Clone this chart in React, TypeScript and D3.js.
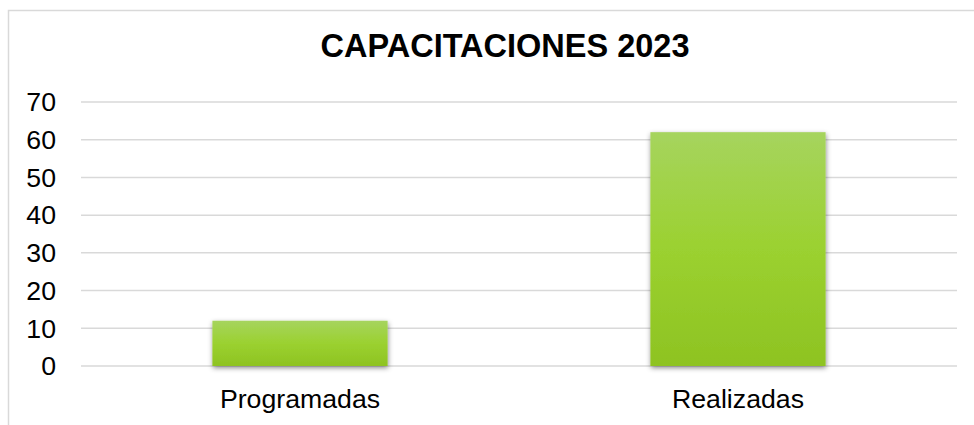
import { useEffect, useRef } from "react"
import * as d3 from "d3"

const categories = ["Programadas", "Realizadas"]
const values = [12, 62]
const yTicks = [0, 10, 20, 30, 40, 50, 60, 70]
const title = "CAPACITACIONES 2023"

const width = 974
const height = 425

export default function App() {
  const svgRef = useRef<SVGSVGElement>(null)

  useEffect(() => {
    if (!svgRef.current) return
    const root = d3.select(svgRef.current)
    root.selectAll("*").remove()

    const margin = { top: 102, right: 17, bottom: 59, left: 81 }
    const innerWidth = width - margin.left - margin.right
    const innerHeight = height - margin.top - margin.bottom

    const defs = root.append("defs")
    const grad = defs
      .append("linearGradient")
      .attr("id", "barGrad")
      .attr("x1", 0)
      .attr("y1", 0)
      .attr("x2", 0)
      .attr("y2", 1)
    grad.append("stop").attr("offset", "0%").attr("stop-color", "#a6d45e")
    grad.append("stop").attr("offset", "50%").attr("stop-color", "#9bd130")
    grad.append("stop").attr("offset", "100%").attr("stop-color", "#8ec322")

    const shadow = defs
      .append("filter")
      .attr("id", "barShadow")
      .attr("x", "-20%")
      .attr("y", "-20%")
      .attr("width", "140%")
      .attr("height", "150%")
    shadow
      .append("feDropShadow")
      .attr("dx", 0.5)
      .attr("dy", 2)
      .attr("stdDeviation", 2.5)
      .attr("flood-color", "#000")
      .attr("flood-opacity", 0.45)

    // Chart frame (only top and left edges are visible in the crop)
    root
      .append("path")
      .attr("d", `M8.5,${height + 5} V10.5 H${width + 5}`)
      .attr("fill", "none")
      .attr("stroke", "#d9d9d9")
      .attr("stroke-width", 1.5)

    root
      .append("text")
      .attr("x", 505)
      .attr("y", 57)
      .attr("text-anchor", "middle")
      .attr("font-family", "Arial, 'Liberation Sans', sans-serif")
      .attr("font-weight", "bold")
      .attr("font-size", 32.5)
      .attr("fill", "#000")
      .text(title)

    const svg = root.append("g").attr("transform", `translate(${margin.left},${margin.top})`)

    const x = d3.scaleBand().domain(categories).range([0, innerWidth]).paddingInner(0.6).paddingOuter(0.3)

    const y = d3.scaleLinear().domain([0, 70]).range([innerHeight, 0])

    // Gridlines
    svg
      .append("g")
      .selectAll("line")
      .data(yTicks)
      .enter()
      .append("line")
      .attr("x1", 0)
      .attr("x2", innerWidth)
      .attr("y1", (d) => y(d))
      .attr("y2", (d) => y(d))
      .attr("stroke", "#d9d9d9")
      .attr("stroke-width", 1.5)

    // Y tick labels
    svg
      .append("g")
      .attr("font-family", "Arial, 'Liberation Sans', sans-serif")
      .attr("font-size", 26.7)
      .attr("text-anchor", "end")
      .selectAll("text")
      .data(yTicks)
      .enter()
      .append("text")
      .attr("x", -25)
      .attr("y", (d) => y(d))
      .attr("dy", "0.35em")
      .attr("fill", "#000")
      .text((d) => d)

    // Bars
    svg
      .append("g")
      .selectAll("rect")
      .data(values)
      .enter()
      .append("rect")
      .attr("x", (d, i) => x(categories[i]) as number)
      .attr("y", (d) => y(d))
      .attr("width", x.bandwidth())
      .attr("height", (d) => innerHeight - y(d))
      .attr("fill", "url(#barGrad)")
      .attr("filter", "url(#barShadow)")

    // Category labels
    svg
      .append("g")
      .attr("font-family", "Arial, 'Liberation Sans', sans-serif")
      .attr("font-size", 26.7)
      .attr("text-anchor", "middle")
      .selectAll("text")
      .data(categories)
      .enter()
      .append("text")
      .attr("x", (d) => (x(d) as number) + x.bandwidth() / 2)
      .attr("y", innerHeight + 42)
      .attr("fill", "#000")
      .text((d) => d)
  }, [])

  return (
    <div style={{ position: "fixed", left: 0, top: 0, width, height, background: "#fff" }}>
      <svg ref={svgRef} width={width} height={height}></svg>
    </div>
  )
}
